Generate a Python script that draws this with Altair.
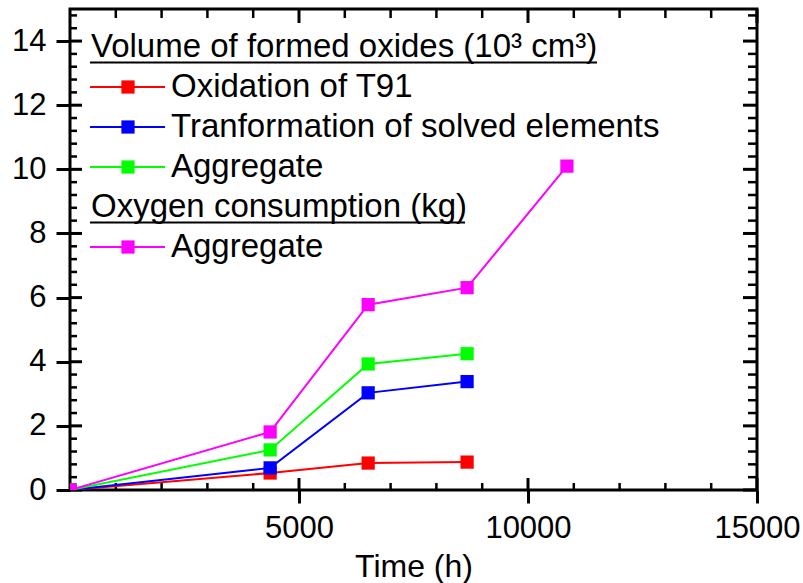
import altair as alt
import pandas as pd

# ---------------- data ----------------
time_h = [0, 4370, 6510, 8670, 10850]
oxidation_t91 = [0, 0.53, 0.84, 0.87]
transformation = [0, 0.69, 3.03, 3.38]
aggregate_volume = [0, 1.25, 3.93, 4.25]
aggregate_oxygen = [0, 1.81, 5.78, 6.31, 10.1]

series_keys = ["Oxidation of T91", "Tranformation of solved elements",
               "Aggregate (volume)", "Aggregate (oxygen)"]
series_values = [oxidation_t91, transformation, aggregate_volume, aggregate_oxygen]
series_colors = ["#ff0000", "#0000ff", "#00ff00", "#ff00ff"]

legend_labels = ["Volume of formed oxides (10³ cm³)", "Oxidation of T91",
                 "Tranformation of solved elements", "Aggregate",
                 "Oxygen consumption (kg)", "Aggregate"]
legend_kinds = ["header", "entry", "entry", "entry", "header", "entry"]
legend_series = ["", series_keys[0], series_keys[1], series_keys[2], "", series_keys[3]]

x_major = [5000, 10000, 15000]
x_minor = [t for t in range(1000, 15000, 1000) if t % 5000]
y_major = [0, 2, 4, 6, 8, 10, 12, 14]
y_minor = [round(0.4 * i, 1) for i in range(1, 38) if i % 5]

# ---------------- tables ----------------
rows = []
for key, vals in zip(series_keys, series_values):
    for t, v in zip(time_h, vals):
        rows.append({"series": key, "time": t, "value": v})
df = pd.DataFrame(rows)

leg = pd.DataFrame({"row": list(range(len(legend_labels))), "label": legend_labels,
                    "kind": legend_kinds, "series": legend_series})

W, H = 687, 481
FONT = "Liberation Sans"

xscale = alt.Scale(domain=[0, 15000], nice=False, zero=False)
yscale = alt.Scale(domain=[0, 15], nice=False, zero=False)
cscale = alt.Scale(domain=series_keys, range=series_colors)


def X(ax):
    return alt.X("time:Q", scale=xscale, axis=ax)


def Y(ax):
    return alt.Y("value:Q", scale=yscale, axis=ax)


layers = []

# main outward axes with labels
ax_bottom = alt.Axis(orient="bottom", values=x_major, format="d", tickSize=13, tickWidth=3,
                     tickColor="black", domain=False, grid=False,
                     labelFont=FONT, labelFontSize=31, labelColor="black",
                     labelPadding=10, labelFlush=False, labelOverlap=False,
                     title="Time (h)", titleFont=FONT, titleFontSize=32,
                     titleFontWeight="normal", titleColor="black", titlePadding=8)
ax_left = alt.Axis(orient="left", values=y_major, format="d", tickSize=14, tickWidth=3,
                   tickColor="black", domain=False, grid=False,
                   labelFont=FONT, labelFontSize=31, labelColor="black",
                   labelPadding=10, labelFlush=False, labelOverlap=False, title=None)
base = alt.Chart(df)
layers.append(base.mark_point(opacity=0).encode(x=X(ax_bottom), y=Y(ax_left)))

# inward ticks on all four sides, placed through the shared scales
xt_major = alt.Chart(pd.DataFrame({"time": x_major}))
xt_minor = alt.Chart(pd.DataFrame({"time": x_minor}))
yt_major = alt.Chart(pd.DataFrame({"value": y_major}))
yt_minor = alt.Chart(pd.DataFrame({"value": y_minor}))
MAJ, MIN = 12, 7
for src, length, sw in [(xt_major, MAJ, 3), (xt_minor, MIN, 2.5)]:
    layers.append(src.mark_rule(strokeWidth=sw, color="black").encode(
        x=X(None), y=alt.value(H), y2=alt.value(H - length)))
    layers.append(src.mark_rule(strokeWidth=sw, color="black").encode(
        x=X(None), y=alt.value(0), y2=alt.value(length + 2)))
for src, length, sw in [(yt_major, MAJ, 3), (yt_minor, MIN, 2.5)]:
    layers.append(src.mark_rule(strokeWidth=sw, color="black").encode(
        y=Y(None), x=alt.value(0), x2=alt.value(length)))
    layers.append(src.mark_rule(strokeWidth=sw, color="black").encode(
        y=Y(None), x=alt.value(W), x2=alt.value(W - length - 2)))

# data series
for key in series_keys:
    sub = base.transform_filter(alt.datum.series == key)
    layers.append(sub.mark_line(strokeWidth=2, clip=True).encode(
        x=X(None), y=Y(None),
        color=alt.Color("series:N", scale=cscale, legend=None)))
    layers.append(sub.mark_square(size=175, opacity=1, clip=True).encode(
        x=X(None), y=Y(None),
        color=alt.Color("series:N", scale=cscale, legend=None)))

# custom legend
lb = alt.Chart(leg).transform_calculate(ly="38 + 40 * datum.row")
ly = alt.Y("ly:Q", scale=None, axis=None)
heads = lb.transform_filter(alt.datum.kind == "header")
ents = lb.transform_filter(alt.datum.kind == "entry")
layers.append(heads.mark_text(align="left", baseline="alphabetic", dy=9.5,
                              font=FONT, fontSize=33, color="black").encode(
    x=alt.value(21), y=ly, text="label:N"))
layers.append(ents.mark_text(align="left", baseline="alphabetic", dy=9.5,
                             font=FONT, fontSize=33, color="black").encode(
    x=alt.value(101), y=ly, text="label:N"))
layers.append(ents.mark_rule(strokeWidth=2).encode(
    x=alt.value(20), x2=alt.value(95), y=ly,
    color=alt.Color("series:N", scale=cscale, legend=None)))
layers.append(ents.mark_square(size=175, opacity=1).encode(
    x=alt.value(58), y=ly,
    color=alt.Color("series:N", scale=cscale, legend=None)))
underline_end = {0: 527, 4: 395}
for r, x2 in underline_end.items():
    layers.append(alt.Chart(leg).transform_filter(alt.datum.row == r).transform_calculate(
        uy="38 + 40 * datum.row + 15.5").mark_rule(strokeWidth=2, color="black").encode(
        x=alt.value(20), x2=alt.value(x2), y=alt.Y("uy:Q", scale=None, axis=None)))

chart = alt.layer(*layers).resolve_scale(
    x="shared", y="shared", color="shared"
).resolve_axis(
    x="independent", y="independent"
).properties(
    width=W, height=H,
    autosize=alt.AutoSizeParams(type="none"),
    padding={"left": 70, "top": 9, "right": 46, "bottom": 93},
    background="white",
).configure_view(stroke="black", strokeWidth=3)

chart.save("out.html", embed_options={"renderer": "svg", "actions": False})
